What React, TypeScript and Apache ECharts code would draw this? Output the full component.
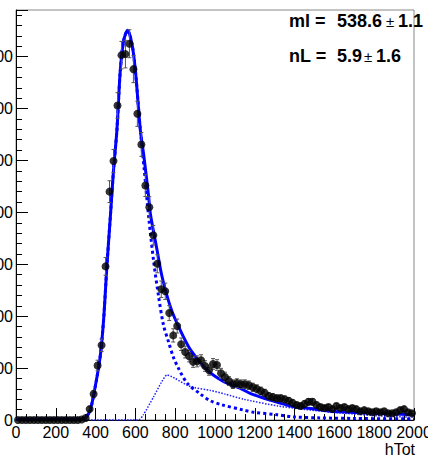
import React, { useEffect, useRef } from "react";
import * as echarts from "echarts";

// Histogram binning (hTot): 100 bins of width 20 from 0 to 2000
const BIN_LOW = 0;
const BIN_WIDTH = 20;
const counts = [
  0, 0, 0, 0, 0, 0, 0, 0, 0, 0,
  0, 0, 0, 0, 0, 0, 1, 4, 21, 50,
  105, 144, 296, 440, 499, 606, 703, 705, 725, 676,
  590, 531, 452, 410, 356, 301, 252, 248, 206, 163,
  181, 146, 131, 123, 112, 113, 115, 104, 96, 108,
  106, 90, 83, 75, 69, 71, 69, 69, 67, 63,
  60, 56, 52, 46, 44, 42, 42, 40, 37, 33,
  29, 27, 31, 35, 35, 29, 25, 23, 25, 21,
  27, 23, 25, 21, 23, 21, 17, 19, 17, 15,
  17, 15, 17, 13, 13, 15, 19, 21, 15, 13,
];

// Fit curves: [hTot, value]
const totalFit: number[][] = [
  [0, 2], [338, 2], [348, 3], [373, 19], [398, 64], [423, 122], [440, 192],
  [457, 298], [474, 391], [490, 481], [507, 558], [524, 673], [541, 731],
  [561, 751], [583, 724], [600, 673], [625, 558], [641, 513], [667, 429],
  [675, 398], [709, 327], [734, 276], [776, 218], [818, 179], [877, 135],
  [961, 96], [1044, 74], [1128, 61], [1179, 51], [1280, 38], [1380, 27],
  [1481, 22], [1582, 17], [1683, 15], [1783, 13], [1884, 12], [2000, 10],
];
const landauPart: number[][] = [
  [0, 1], [338, 2], [348, 3], [373, 19], [398, 64], [423, 122], [440, 192],
  [457, 298], [474, 391], [490, 481], [507, 558], [524, 673], [541, 731],
  [561, 751], [583, 724], [600, 673], [625, 558], [645, 480], [667, 390],
  [692, 305], [717, 237], [741, 183], [767, 150], [790, 122], [816, 100],
  [860, 71], [927, 50], [977, 37], [1028, 30], [1144, 19], [1194, 15],
  [1313, 10], [1395, 6], [1532, 4], [1700, 3], [2000, 2],
];
const secondPart: number[][] = [
  [0, 0], [615, 0], [640, 10], [692, 45], [730, 72], [759, 87], [800, 80],
  [860, 67], [900, 62], [977, 57], [1050, 50], [1144, 40], [1315, 27],
  [1481, 19], [1647, 13], [1819, 8], [2000, 5],
];

const xTicks = [0, 200, 400, 600, 800, 1000, 1200, 1400, 1600, 1800, 2000];
const yTicks = [0, 100, 200, 300, 400, 500, 600, 700];

const statRows = [
  { name: "ml =", value: "538.6", err: "1.1" },
  { name: "nL =", value: "5.9", err: "1.6" },
];

const OFFSET = 40; // chart div is shifted left so that the y labels get cut like the reference
const FONT = "'Liberation Sans', Arial, Helvetica, sans-serif";

export default function App() {
  const ref = useRef<HTMLDivElement>(null);
  useEffect(() => {
    if (!ref.current) return;
    const chart = echarts.init(ref.current, null, { renderer: "svg" });
    const points = counts.map((c, i) => [BIN_LOW + BIN_WIDTH * (i + 0.5), c]);
    const errs = counts
      .map((c, i) => [BIN_LOW + BIN_WIDTH * (i + 0.5), c, Math.sqrt(c)])
      .filter((d) => d[1] > 0);

    const statGraphics: any[] = [];
    statRows.forEach((r, k) => {
      const y = 21 + k * 35;
      const valW = r.value.length === 5 ? 45 : 23;
      statGraphics.push(
        { type: "text", x: 289 + OFFSET, y, style: { text: r.name, font: `bold 18px ${FONT}`, fill: "#000", textVerticalAlign: "middle" }, z: 10 },
        { type: "text", x: 337 + OFFSET, y, style: { text: r.value, font: `bold 18px ${FONT}`, fill: "#000", textVerticalAlign: "middle" }, z: 10 },
        { type: "text", x: 337 + valW + 4 + OFFSET, y, style: { text: "±", font: `15px ${FONT}`, fill: "#000", textVerticalAlign: "middle" }, z: 10 },
        { type: "text", x: 337 + valW + 16 + OFFSET, y, style: { text: r.err, font: `bold 18px ${FONT}`, fill: "#000", textVerticalAlign: "middle" }, z: 10 }
      );
    });

    chart.setOption({
      animation: false,
      grid: {
        left: 16 + OFFSET,
        top: 10,
        width: 398,
        height: 410,
        show: true,
        borderColor: "#888",
        borderWidth: 1,
        backgroundColor: "transparent",
        outerBoundsMode: "none",
        containLabel: false,
      },
      xAxis: {
        type: "value",
        min: 0,
        max: 2000,
        interval: 200,
        axisLine: { show: true, onZero: false, lineStyle: { color: "#000", width: 1 } },
        axisTick: { show: true, inside: true, length: 12, lineStyle: { color: "#000" } },
        minorTick: { show: true, splitNumber: 4, length: 6, lineStyle: { color: "#000" } },
        splitLine: { show: false },
        axisLabel: {
          color: "#000",
          fontSize: 16,
          fontFamily: FONT,
          margin: 4,
          hideOverlap: false,
          customValues: xTicks,
          formatter: (v: number) => String(v),
        },
      },
      yAxis: {
        type: "value",
        min: 0,
        max: 790,
        interval: 100,
        axisLine: { show: true, onZero: false, lineStyle: { color: "#000", width: 1 } },
        axisTick: { show: true, inside: true, length: 12, lineStyle: { color: "#000" } },
        minorTick: { show: true, splitNumber: 5, length: 6, lineStyle: { color: "#000" } },
        splitLine: { show: false },
        axisLabel: {
          color: "#000",
          fontSize: 16,
          fontFamily: FONT,
          margin: 3,
          customValues: yTicks,
          formatter: (v: number) => String(v),
        },
      },
      graphic: [
        {
          type: "text",
          x: 415 + OFFSET,
          y: 449,
          style: { text: "hTot", font: `16px ${FONT}`, fill: "#000", textAlign: "right", textVerticalAlign: "middle" },
          z: 10,
        },
        ...statGraphics,
      ],
      series: [
        {
          type: "line",
          data: secondPart,
          showSymbol: false,
          smooth: 0.2,
          lineStyle: { color: "#2020ff", width: 1.5, type: [1.5, 1.5] },
          z: 2,
        },
        {
          type: "line",
          data: landauPart,
          showSymbol: false,
          smooth: 0.3,
          lineStyle: { color: "#0000ff", width: 3, type: [3, 3] },
          z: 2,
        },
        {
          type: "line",
          data: totalFit,
          showSymbol: false,
          smooth: 0.3,
          lineStyle: { color: "#0000ff", width: 3 },
          z: 3,
        },
        {
          type: "custom",
          data: errs,
          z: 4,
          renderItem: (params: any, api: any) => {
            const x = api.value(0);
            const y = api.value(1);
            const e = api.value(2);
            const top = api.coord([x, y + e]);
            const bot = api.coord([x, Math.max(0, y - e)]);
            const st = { stroke: "#555", lineWidth: 1 };
            return {
              type: "group",
              children: [
                { type: "line", shape: { x1: top[0], y1: top[1], x2: bot[0], y2: bot[1] }, style: st },
                { type: "line", shape: { x1: top[0] - 2, y1: top[1], x2: top[0] + 2, y2: top[1] }, style: st },
                { type: "line", shape: { x1: bot[0] - 2, y1: bot[1], x2: bot[0] + 2, y2: bot[1] }, style: st },
              ],
            };
          },
        },
        {
          type: "scatter",
          data: points,
          symbol: "circle",
          symbolSize: 8,
          itemStyle: { color: "#000" },
          z: 5,
        },
      ],
    });
    return () => chart.dispose();
  }, []);

  return (
    <div style={{ position: "fixed", left: 0, top: 0, width: 428, height: 456, overflow: "hidden", background: "#fff" }}>
      <div ref={ref} style={{ position: "absolute", left: -OFFSET, top: 0, width: 510, height: 456 }} />
    </div>
  );
}
